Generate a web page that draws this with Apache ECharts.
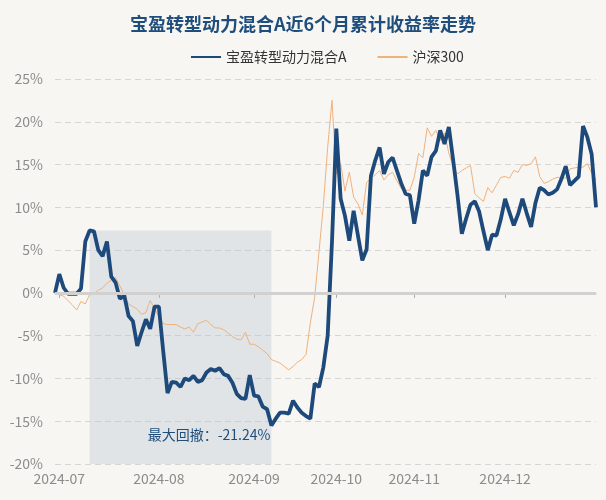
<!DOCTYPE html>
<html><head><meta charset="utf-8">
<script src="https://cdn.jsdelivr.net/npm/echarts@6/dist/echarts.min.js"></script>
<style>html,body{margin:0;padding:0;background:#f8f6f2;} #c{width:606px;height:500px;}</style>
</head><body><div id="c"></div>
<script>
const titleText = '宝盈转型动力混合A近6个月累计收益率走势';
const seriesNames = ['宝盈转型动力混合A', '沪深300'];
const drawdownLabel = '最大回撤：-21.24%';

// trading days per month
const jun = [28];
const jul = [1,2,3,4,5,8,9,10,11,12,15,16,17,18,19,22,23,24,25,26,29,30,31];
const aug = [1,2,5,6,7,8,9,12,13,14,15,16,19,20,21,22,23,26,27,28,29,30];
const sep = [2,3,4,5,6,9,10,11,12,13,18,19,20,23,24,25,26,27,30];
const oct = [8,9,10,11,14,15,16,17,18,21,22,23,24,25,28,29,30,31];
const nov = [1,4,5,6,7,8,11,12,13,14,15,18,19,20,21,22,25,26,27,28,29];
const dec = [2,3,4,5,6,9,10,11,12,13,16,17,18,19,20,23,24,25,26,27,30,31];
const months = ['2024-06','2024-07','2024-08','2024-09','2024-10','2024-11','2024-12'];
const monthDays = [jun, jul, aug, sep, oct, nov, dec];

const fundValues = [
 0, 2.2, 0.6, -0.1, -0.1, -0.1, 0.5, 6.0, 7.3, 7.2,
 5.0, 4.3, 6.0, 1.9, 1.2, -0.7, -0.3, -2.7, -3.3, -6.2,
 -4.6, -3.1, -4.2, -1.6, -1.6, -6.8, -11.7, -10.4, -10.5, -11.0,
 -10.0, -10.2, -9.7, -10.4, -10.2, -9.3, -8.9, -9.1, -8.8, -9.5,
 -9.7, -10.5, -11.8, -12.3, -12.4, -9.6, -12.0, -12.1, -13.3, -13.6,
 -15.5, -14.7, -14.0, -14.0, -14.1, -12.6, -13.4, -14.0, -14.4, -14.7,
 -10.6, -11.0, -8.7, -5.0, 6.0, 19.2, 11.0, 9.0, 6.1, 9.6,
 6.7, 3.8, 5.1, 13.7, 15.5, 17.0, 13.9, 15.3, 15.8, 14.3,
 12.8, 11.6, 11.4, 8.1, 10.8, 14.3, 13.7, 15.9, 16.6, 19.0,
 17.4, 19.4, 15.5, 11.4, 6.9, 8.7, 10.3, 10.7, 9.5, 7.2,
 5.0, 6.8, 6.7, 8.6, 11.0, 9.4, 7.9, 9.2, 11.0, 9.3,
 7.7, 10.5, 12.3, 12.0, 11.5, 11.7, 12.1, 13.3, 14.8, 12.6,
 13.1, 13.6, 19.5, 18.2, 16.2, 10.0
];
const hs300Values = [
 0, -0.2, -0.4, -0.9, -1.4, -2.0, -1.0, -1.3, -0.2, -0.1,
 0.3, 0.6, 1.1, 1.5, 1.8, 0.8, -0.2, -1.3, -1.6, -1.9,
 -2.5, -2.3, -0.9, -1.8, -2.8, -3.6, -3.7, -3.7, -3.7, -4.0,
 -4.2, -4.0, -4.6, -3.6, -3.4, -3.2, -3.7, -4.1, -4.1, -4.3,
 -4.7, -5.1, -5.4, -5.5, -4.6, -6.0, -6.0, -6.3, -6.7, -7.1,
 -7.8, -8.0, -8.2, -8.6, -9.0, -8.6, -8.1, -7.8, -7.2, -3.5,
 -0.5, 4.8, 10.2, 17.0, 22.5, 13.9, 15.1, 11.9, 14.1, 11.2,
 10.4, 9.1, 12.9, 13.4, 13.8, 14.3, 13.2, 13.8, 14.1, 13.1,
 12.2, 12.0, 12.0, 13.5, 16.3, 15.8, 19.3, 18.3, 19.0, 17.8,
 18.7, 16.3, 14.8, 13.9, 14.3, 14.6, 14.9, 11.6, 11.1, 10.7,
 12.3, 11.7, 12.6, 13.5, 13.6, 13.4, 14.3, 14.1, 15.0, 14.9,
 15.1, 15.9, 13.6, 12.8, 13.0, 13.3, 13.5, 13.5, 13.4, 14.5,
 14.6, 14.7, 14.7, 15.1, 14.0, 13.2
];
const yMin = -20, yMax = 25, yStep = 5;

const categories = [];
months.forEach((m, k) => monthDays[k].forEach(d => categories.push(m + '-' + String(d).padStart(2, '0'))));

function isMonthStart(i) {
  return i > 0 && categories[i].slice(0, 7) !== categories[i - 1].slice(0, 7);
}

// maximum drawdown of the fund line
let runPeak = 0, worst = 0, ddPeak = 0, ddTrough = 0;
for (let i = 0; i < fundValues.length; i++) {
  if (fundValues[i] > fundValues[runPeak]) runPeak = i;
  const dd = (1 + fundValues[i] / 100) / (1 + fundValues[runPeak] / 100) - 1;
  if (dd < worst) { worst = dd; ddPeak = runPeak; ddTrough = i; }
}

const chart = echarts.init(document.getElementById('c'), null, { renderer: 'canvas' });
const font = '"Noto Sans CJK SC", "Noto Sans", sans-serif';
chart.setOption({
  animation: false,
  backgroundColor: '#f8f6f2',
  textStyle: { fontFamily: font },
  title: {
    text: titleText, left: 'center', top: 10,
    textStyle: { fontSize: 18, fontWeight: 'bold', color: '#1f4e7d', fontFamily: font }
  },
  legend: {
    data: seriesNames, left: 185, top: 45, itemWidth: 30, itemHeight: 14, itemGap: 30,
    itemStyle: { opacity: 0 },
    textStyle: { fontSize: 14, color: '#333', fontFamily: font }
  },
  grid: { left: 55, right: 10, top: 79, bottom: 36, containLabel: false },
  xAxis: {
    type: 'category', boundaryGap: false, data: categories,
    axisLine: { lineStyle: { color: '#a8a8a8', width: 1 } },
    axisTick: { interval: (i) => isMonthStart(i), length: 5, lineStyle: { color: '#a8a8a8' } },
    axisLabel: { interval: (i) => isMonthStart(i), formatter: v => v.slice(0, 7), color: '#8c8c8c', fontSize: 14, margin: 8 },
    splitLine: { show: false }
  },
  yAxis: {
    type: 'value', min: yMin, max: yMax, interval: yStep,
    axisLine: { show: false }, axisTick: { show: false },
    axisLabel: { formatter: '{value}%', color: '#8c8c8c', fontSize: 14, margin: 12 },
    splitLine: { lineStyle: { color: '#d8d6d3', type: [6, 4], width: 1 } }
  },
  series: [
    {
      name: seriesNames[1], type: 'line', data: hs300Values, symbol: 'none', z: 2,
      lineStyle: { width: 1, color: '#efb27d' }, itemStyle: { color: '#efb27d' },
      markLine: {
        silent: true, symbol: ['none', 'none'], label: { show: false },
        lineStyle: { color: '#d2d1cf', width: 3, type: 'solid' },
        data: [{ yAxis: 0 }]
      },
      markArea: {
        silent: true,
        itemStyle: { color: 'rgba(180,195,212,0.35)' },
        label: {
          show: true, position: 'insideBottomRight', formatter: drawdownLabel,
          color: '#1f4e7d', fontSize: 14, distance: 1, offset: [0, -21], fontFamily: font
        },
        data: [[
          { xAxis: categories[ddPeak], yAxis: fundValues[ddPeak] },
          { xAxis: categories[ddTrough], yAxis: yMin }
        ]]
      }
    },
    {
      name: seriesNames[0], type: 'line', data: fundValues, symbol: 'none', z: 3,
      lineStyle: { width: 3.8, color: '#1d4a7b' }, itemStyle: { color: '#1d4a7b' }
    }
  ]
});
</script></body></html>
